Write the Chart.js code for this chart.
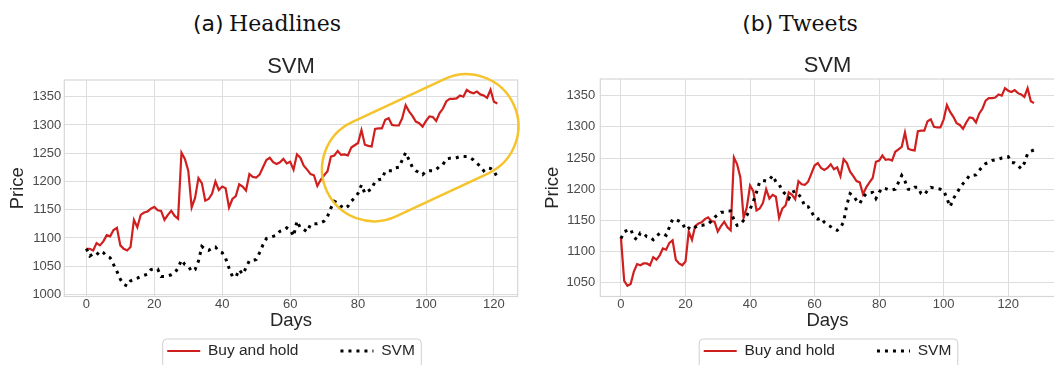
<!DOCTYPE html>
<html>
<head>
<meta charset="utf-8">
<script src="https://cdn.jsdelivr.net/npm/chart.js@4.4.1/dist/chart.umd.min.js"></script>
<style>
    html, body { margin: 0; padding: 0; overflow: hidden; background: #fff; }
    body { position: relative; width: 1054px; height: 365px; }
    canvas { position: absolute; top: 0; }
    .caption { position: absolute; top: 9px; width: 240px; text-align: center; font-size: 22px; line-height: 30px; color: #111; white-space: nowrap; }
    .caption .tag { font-family: 'DejaVu Sans', sans-serif; }
    .caption .name { font-family: 'DejaVu Serif', serif; }
</style>
</head>
<body>
<div class="caption" style="left:147px"><span class="tag">(a)</span> <span class="name">Headlines</span></div>
<div class="caption" style="left:680px"><span class="tag">(b)</span> <span class="name">Tweets</span></div>
<canvas id="headlinesChart" width="582" height="406" style="left:0"></canvas>
<canvas id="tweetsChart" width="601" height="406" style="left:527px"></canvas>
<script>
// Tick values
const dayTicks = [0, 20, 40, 60, 80, 100, 120];
const headlinePriceTicks = [1000, 1050, 1100, 1150, 1200, 1250, 1300, 1350];
const tweetPriceTicks = [1050, 1100, 1150, 1200, 1250, 1300, 1350];

// Buy and hold price, headlines period (days 0..121)
const buyHoldHeadlines = [
    1081, 1081, 1078, 1091, 1087, 1094, 1105, 1103, 1114, 1118,
    1087, 1081, 1078, 1084, 1132, 1119, 1141, 1145, 1147, 1152,
    1155, 1149, 1148, 1132, 1141, 1148, 1139, 1134, 1251, 1240,
    1219, 1154, 1171, 1206, 1197, 1166, 1169, 1178, 1200, 1185,
    1191, 1188, 1154, 1169, 1174, 1195, 1191, 1184, 1213, 1208,
    1207, 1212, 1225, 1238, 1242, 1234, 1231, 1234, 1240, 1232,
    1235, 1221, 1248, 1242, 1228, 1221, 1213, 1211, 1192, 1203,
    1211, 1218, 1244, 1246, 1254, 1247, 1248, 1246, 1260, 1264,
    1268, 1291, 1265, 1263, 1262, 1293, 1294, 1294, 1309, 1312,
    1300, 1299, 1299, 1312, 1335, 1324, 1316, 1306, 1303, 1297,
    1307, 1315, 1314, 1307, 1321, 1329, 1342, 1346, 1346, 1347,
    1352, 1350, 1362, 1358, 1356, 1359, 1354, 1352, 1348, 1362,
    1341, 1338
];

// SVM strategy, headlines
const svmHeadlines = [
    1081, 1068, 1072, 1070, 1077, 1074, 1068, 1065, 1053, 1041,
    1027, 1018, 1015, 1024, 1027, 1029, 1032, 1034, 1036, 1044,
    1045, 1045, 1032, 1032, 1033, 1035, 1038, 1047, 1061, 1053,
    1050, 1041, 1044, 1059, 1085, 1080, 1078, 1082, 1084, 1077,
    1074, 1064, 1047, 1032, 1031, 1044, 1036, 1047, 1060, 1060,
    1062, 1074, 1088, 1099, 1101, 1103, 1105, 1112, 1114, 1118,
    1115, 1103, 1130, 1118, 1115, 1111, 1124, 1125, 1125, 1127,
    1130, 1138, 1153, 1165, 1162, 1156, 1152, 1156, 1165, 1171,
    1179, 1194, 1179, 1183, 1187, 1200, 1203, 1204, 1218, 1219,
    1219, 1224, 1225, 1238, 1251, 1238, 1225, 1219, 1216, 1212,
    1218, 1219, 1219, 1221, 1227, 1230, 1240, 1241, 1241, 1242,
    1244, 1244, 1244, 1242, 1238, 1232, 1227, 1219, 1224, 1223,
    1219, 1207
];

// Tweets period starts 7 trading days earlier than the headlines one
const buyHoldTweetsLead = [1122, 1053, 1045, 1048, 1068, 1080, 1078];
const buyHoldTweets = buyHoldTweetsLead.concat(buyHoldHeadlines);

// SVM strategy, tweets (days 0..128)
const svmTweets = [
    1121, 1132, 1134, 1136, 1123, 1119, 1130, 1129, 1124, 1123,
    1119, 1125, 1129, 1129, 1126, 1139, 1152, 1151, 1149, 1146,
    1135, 1138, 1135, 1139, 1142, 1142, 1143, 1144, 1149, 1155,
    1159, 1163, 1163, 1165, 1165, 1151, 1142, 1144, 1150, 1158,
    1168, 1180, 1195, 1212, 1214, 1213, 1215, 1222, 1212, 1208,
    1197, 1192, 1185, 1195, 1197, 1192, 1185, 1172, 1172, 1164,
    1155, 1152, 1154, 1147, 1143, 1140, 1136, 1134, 1138, 1148,
    1175, 1193, 1190, 1182, 1177, 1187, 1193, 1194, 1195, 1185,
    1195, 1202, 1201, 1199, 1199, 1200, 1211, 1222, 1213, 1200,
    1199, 1203, 1203, 1193, 1191, 1198, 1203, 1202, 1201, 1200,
    1198, 1185, 1172, 1185, 1193, 1202, 1209, 1215, 1222, 1222,
    1223, 1230, 1236, 1241, 1243, 1246, 1247, 1248, 1250, 1251,
    1252, 1243, 1242, 1238, 1233, 1242, 1257, 1261, 1263
];

Chart.defaults.font.family = "'Liberation Sans', Arial, sans-serif";

const toPoints = values => values.map((v, i) => ({ x: i, y: v }));

// Centre title/legend on the plot, light frames and the yellow highlight
const decorPlugin = {
    id: 'decor',
    afterLayout(chart, args, opts) {
        const area = chart.chartArea;
        const title = chart.titleBlock;
        title.left = area.left;
        title.right = area.right;

        const legend = chart.legend;
        const pad = legend.options.labels.padding;
        const h = legend.options.labels.font.size;
        legend.left = area.left;
        legend.right = area.right;
        legend.top = opts.legendTextY - pad - h / 2;
    },
    beforeDatasetsDraw(chart) {
        const { ctx, chartArea: a } = chart;
        ctx.save();
        ctx.strokeStyle = '#d6d6d6';
        ctx.lineWidth = 1.2;
        ctx.strokeRect(a.left, a.top, a.right - a.left, a.bottom - a.top);
        ctx.restore();
    },
    afterDatasetsDraw(chart, args, opts) {
        const hl = opts.highlight;
        if (!hl) return;
        const { ctx, scales: { x, y } } = chart;
        const x1 = x.getPixelForValue(hl.from[0]), y1 = y.getPixelForValue(hl.from[1]);
        const x2 = x.getPixelForValue(hl.to[0]), y2 = y.getPixelForValue(hl.to[1]);
        const ang = Math.atan2(y2 - y1, x2 - x1);
        ctx.save();
        ctx.strokeStyle = hl.color;
        ctx.lineWidth = hl.width;
        ctx.beginPath();
        ctx.arc(x1, y1, hl.radius, ang + Math.PI / 2, ang + 3 * Math.PI / 2);
        ctx.arc(x2, y2, hl.radius, ang - Math.PI / 2, ang + Math.PI / 2);
        ctx.closePath();
        ctx.stroke();
        ctx.restore();
    },
    afterDraw(chart) {
        const boxes = chart.legend.legendHitBoxes;
        if (!boxes || !boxes.length) return;
        const { ctx } = chart;
        const last = boxes[boxes.length - 1];
        const left = boxes[0].left - 5;
        const right = last.left + last.width + 6;
        const top = chart.scales.x.bottom;
        ctx.save();
        ctx.strokeStyle = '#cfcfcf';
        ctx.lineWidth = 1;
        ctx.beginPath();
        ctx.roundRect(left + 0.5, top + 0.5, right - left, 60, 4);
        ctx.stroke();
        ctx.restore();
    }
};

// legend samples should use the dataset's own line style
function lineLabels(chart) {
    return Chart.defaults.plugins.legend.labels.generateLabels(chart).map(item => {
        const ds = chart.data.datasets[item.datasetIndex];
        item.lineDash = ds.borderDash || [];
        item.lineWidth = ds.borderWidth;
        item.strokeStyle = ds.borderColor;
        item.lineCap = 'butt';
        return item;
    });
}

function makeChart(canvasId, cfg) {
    return new Chart(document.getElementById(canvasId), {
        type: 'line',
        data: {
            datasets: [
                {
                    label: 'Buy and hold',
                    data: toPoints(cfg.buyHold),
                    borderColor: '#d01f1f',
                    borderWidth: 2.2,
                    pointRadius: 0,
                    tension: 0,
                    order: 2
                },
                {
                    label: 'SVM',
                    data: toPoints(cfg.svm),
                    borderColor: '#000000',
                    borderWidth: 3,
                    borderDash: [3, 5],
                    borderCapStyle: 'butt',
                    pointRadius: 0,
                    tension: 0,
                    order: 1
                }
            ]
        },
        options: {
            responsive: false,
            animation: false,
            devicePixelRatio: 1,
            layout: { padding: { left: 0, right: cfg.axisWidth, top: 0, bottom: 0 } },
            plugins: {
                title: {
                    display: true,
                    text: 'SVM',
                    color: '#262626',
                    font: { size: 22, weight: 'normal' },
                    padding: { top: cfg.titleTop, bottom: 0 }
                },
                legend: {
                    position: 'bottom',
                    labels: {
                        usePointStyle: true,
                        pointStyle: 'line',
                        pointStyleWidth: 33,
                        padding: 42,
                        color: '#262626',
                        font: { size: 15.5 },
                        generateLabels: lineLabels,
                        sort: (a, b) => a.datasetIndex - b.datasetIndex
                    }
                },
                tooltip: { enabled: false },
                decor: { legendTextY: 351, highlight: cfg.highlight || null }
            },
            scales: {
                x: {
                    type: 'linear',
                    min: cfg.dayMin,
                    max: cfg.dayMax,
                    afterBuildTicks: s => { s.ticks = dayTicks.map(v => ({ value: v })); },
                    afterFit: s => { s.height = 42; },
                    border: { display: false },
                    grid: { color: '#dddddd', lineWidth: 1, drawTicks: false },
                    ticks: { color: '#4a4a4a', font: { size: 13 }, padding: 0, maxRotation: 0, callback: v => String(v) },
                    title: { display: true, text: 'Days', color: '#262626', font: { size: 18.5 }, padding: { top: 0, bottom: 6 } }
                },
                y: {
                    min: cfg.priceMin,
                    max: cfg.priceMax,
                    afterBuildTicks: s => { s.ticks = cfg.priceTicks.map(v => ({ value: v })); },
                    afterFit: s => { s.width = cfg.axisWidth; },
                    border: { display: false },
                    grid: { color: '#dddddd', lineWidth: 1, drawTicks: false },
                    ticks: { color: '#4a4a4a', font: { size: 13 }, padding: cfg.tickPad, callback: v => String(v) },
                    title: { display: true, text: 'Price', color: '#262626', font: { size: 18.5 }, padding: { top: cfg.priceTitlePad, bottom: 0 } }
                }
            }
        },
        plugins: [decorPlugin]
    });
}

makeChart('headlinesChart', {
    buyHold: buyHoldHeadlines,
    svm: svmHeadlines,
    priceTicks: headlinePriceTicks,
    dayMin: -6.5, dayMax: 127,
    priceMin: 996.5, priceMax: 1379.5,
    axisWidth: 64.3, titleTop: 53.6, tickPad: 3, priceTitlePad: 7,
    highlight: { from: [84.7, 1221.5], to: [111.9, 1297.8], radius: 52, width: 2.5, color: '#f5c32c' }
});

makeChart('tweetsChart', {
    buyHold: buyHoldTweets,
    svm: svmTweets,
    priceTicks: tweetPriceTicks,
    dayMin: -6.4, dayMax: 134.4,
    priceMin: 1028, priceMax: 1376.7,
    axisWidth: 73.3, titleTop: 52.6, tickPad: 5, priceTitlePad: 14.7
});
</script>
</body>
</html>
